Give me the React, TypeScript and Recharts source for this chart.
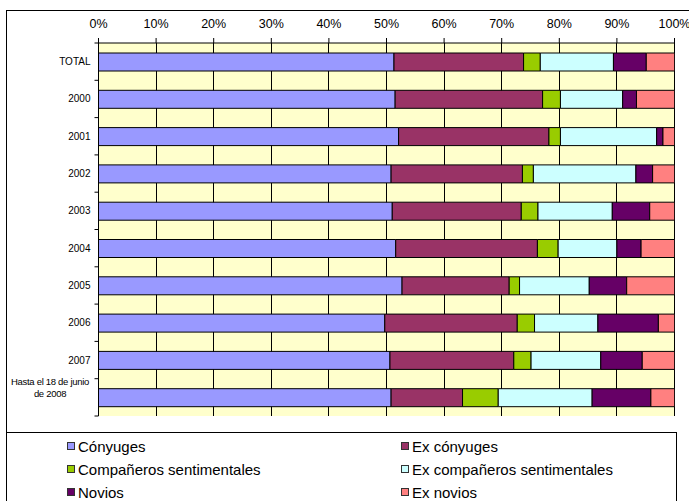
import React from 'react';
import { BarChart, Bar, XAxis, YAxis, CartesianGrid } from 'recharts';

const categories = ['TOTAL', '2000', '2001', '2002', '2003', '2004', '2005', '2006', '2007', 'Hasta el 18 de junio de 2008'];
const conyuges = [51.3, 51.5, 52.1, 50.8, 51.0, 51.6, 52.7, 49.7, 50.6, 50.8];
const exConyuges = [22.5, 25.6, 26.1, 22.8, 22.4, 24.6, 18.6, 23.0, 21.5, 12.4];
const companeros = [2.9, 3.1, 2.0, 1.9, 2.9, 3.6, 1.8, 3.0, 3.0, 6.2];
const exCompaneros = [12.7, 10.8, 16.7, 17.8, 12.9, 10.2, 12.1, 11.0, 12.1, 16.3];
const novios = [5.7, 2.4, 1.1, 2.9, 6.5, 4.2, 6.5, 10.5, 7.2, 10.2];
const exNovios = [4.9, 6.6, 2.0, 3.8, 4.3, 5.8, 8.3, 2.8, 5.6, 4.1];
const xTicks = [0, 10, 20, 30, 40, 50, 60, 70, 80, 90, 100];

const seriesNames = ['Cónyuges', 'Ex cónyuges', 'Compañeros sentimentales', 'Ex compañeros sentimentales', 'Novios', 'Ex novios'];
const seriesKeys = ['conyuges', 'exConyuges', 'companeros', 'exCompaneros', 'novios', 'exNovios'];
const seriesColors = ['#9999FF', '#993366', '#99CC00', '#CCFFFF', '#660066', '#FF8080'];
const seriesValues = [conyuges, exConyuges, companeros, exCompaneros, novios, exNovios];

const data = categories.map((c, i) => {
  const row: any = { name: c };
  seriesKeys.forEach((k, j) => { row[k] = seriesValues[j][i]; });
  return row;
});

const FONT = '"Liberation Sans", Arial, sans-serif';
const BAND = 37.3;

const YTick = (props: any) => {
  const { x, y, payload, index } = props;
  const axisX = x + 8;
  const label: string = payload.value;
  const lines = label.length > 10 ? [label.slice(0, label.lastIndexOf(' de ')), label.slice(label.lastIndexOf(' de ') + 1)] : [label];
  return (
    <g>
      <line x1={axisX - 4} x2={axisX} y1={y - BAND / 2} y2={y - BAND / 2} stroke="#000" />
      {index === categories.length - 1 && (
        <line x1={axisX - 4} x2={axisX} y1={y + BAND / 2} y2={y + BAND / 2} stroke="#000" />
      )}
      {lines.length === 1 ? (
        <text x={x} y={y + 3.5} textAnchor="end" fontSize={10} fontFamily={FONT} fill="#000">{label}</text>
      ) : (
        <text textAnchor="middle" fontSize={9.5} fontFamily={FONT} fill="#000" letterSpacing={-0.3}>
          <tspan x={50} y={y - 12}>{lines[0]}</tspan>
          <tspan x={50} y={y - 0.5}>{lines[1]}</tspan>
        </text>
      )}
    </g>
  );
};

export default function App() {
  return (
    <div style={{ position: 'fixed', left: 0, top: 0, width: 689, height: 501, background: '#fff', overflow: 'hidden', fontFamily: FONT }}>
      <div style={{ position: 'absolute', left: 6, top: 10, width: 700, height: 520, border: '1px solid #000', boxSizing: 'border-box' }} />
      <div style={{ position: 'absolute', left: 6, top: 432, width: 671, height: 90, border: '1px solid #000', boxSizing: 'border-box' }} />
      <div style={{ position: 'absolute', left: 0, top: 0 }}>
        <BarChart
          width={689}
          height={501}
          data={data}
          layout="vertical"
          margin={{ top: 13, right: 14.5, bottom: 85, left: 0 }}
          barCategoryGap={0}
        >
          <CartesianGrid horizontal={false} vertical={true} stroke="#000" fill="#FFFFCC" fillOpacity={1} shapeRendering="crispEdges" />
          <XAxis
            type="number"
            orientation="top"
            domain={[0, 100]}
            ticks={xTicks}
            interval={0}
            height={30}
            tickFormatter={(v: number) => `${v}%`}
            tick={{ fontSize: 12.5, fontFamily: FONT, fill: '#000' }}
            tickSize={5}
            tickMargin={10}
            axisLine={{ stroke: '#000' }}
            tickLine={{ stroke: '#000' }}
            allowDataOverflow
          />
          <YAxis
            type="category"
            dataKey="name"
            width={98.5}
            tickSize={0}
            tickMargin={8}
            tickLine={false}
            axisLine={{ stroke: '#000' }}
            interval={0}
            tick={<YTick />}
          />
          {seriesKeys.map((k, j) => (
            <Bar
              key={k}
              dataKey={k}
              name={seriesNames[j]}
              stackId="a"
              fill={seriesColors[j]}
              stroke="#000"
              strokeWidth={1}
              barSize={18}
              isAnimationActive={false}
            />
          ))}
        </BarChart>
      </div>
      {seriesNames.map((n, j) => {
        const col = j % 2;
        const row = Math.floor(j / 2);
        const left = col === 0 ? 67 : 401;
        const top = 446 + row * 23;
        return (
          <div key={n} style={{ position: 'absolute', left, top: top - 10, height: 20, display: 'flex', alignItems: 'center', whiteSpace: 'nowrap' }}>
            <span style={{ display: 'inline-block', width: 6, height: 6, background: seriesColors[j], border: '1px solid #333', marginRight: 3 }} />
            <span style={{ fontSize: 15, color: '#000', fontFamily: FONT }}>{n}</span>
          </div>
        );
      })}
    </div>
  );
}
